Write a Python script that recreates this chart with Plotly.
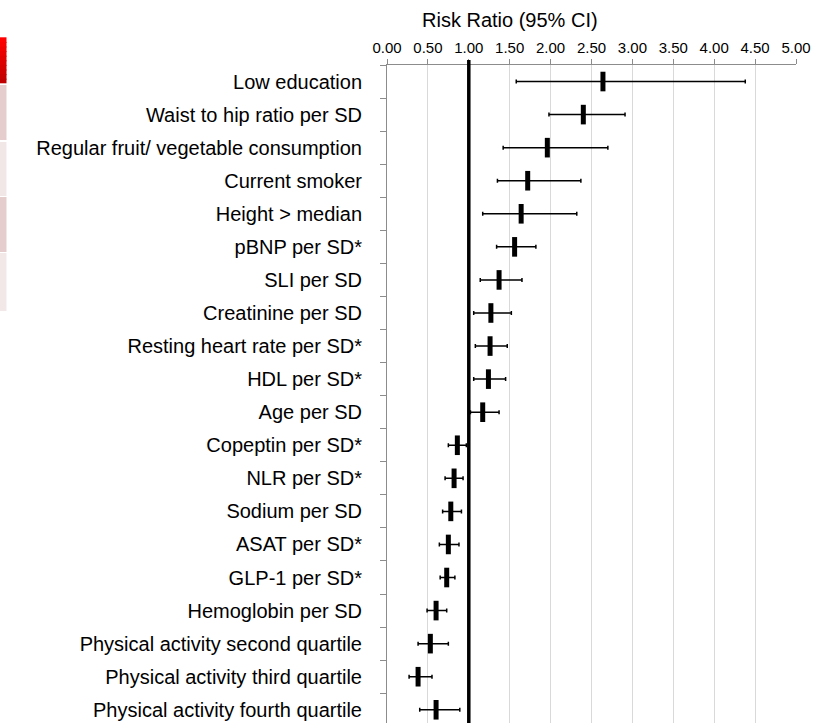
import plotly.graph_objects as go

labels = [
    "Low education",
    "Waist to hip ratio per SD",
    "Regular fruit/ vegetable consumption",
    "Current smoker",
    "Height > median",
    "pBNP per SD*",
    "SLI per SD",
    "Creatinine per SD",
    "Resting heart rate per SD*",
    "HDL per SD*",
    "Age per SD",
    "Copeptin per SD*",
    "NLR per SD*",
    "Sodium per SD",
    "ASAT per SD*",
    "GLP-1 per SD*",
    "Hemoglobin per SD",
    "Physical activity second quartile",
    "Physical activity third quartile",
    "Physical activity fourth quartile",
]
rr = [2.64, 2.40, 1.96, 1.72, 1.64, 1.56, 1.37, 1.27, 1.26, 1.24, 1.17,
      0.86, 0.82, 0.78, 0.75, 0.73, 0.60, 0.53, 0.38, 0.60]
ci_low = [1.58, 1.98, 1.42, 1.35, 1.17, 1.34, 1.14, 1.06, 1.08, 1.06, 1.02,
          0.75, 0.71, 0.68, 0.64, 0.65, 0.49, 0.38, 0.27, 0.40]
ci_high = [4.38, 2.91, 2.70, 2.37, 2.32, 1.82, 1.65, 1.52, 1.47, 1.45, 1.37,
           0.97, 0.93, 0.91, 0.88, 0.83, 0.73, 0.75, 0.55, 0.89]
x_ticks = [0, 0.5, 1, 1.5, 2, 2.5, 3, 3.5, 4, 4.5, 5]
x_tick_text = ["0.00", "0.50", "1.00", "1.50", "2.00", "2.50", "3.00", "3.50", "4.00", "4.50", "5.00"]
reference_value = 1.0

W, H = 827, 723
ML, MR, MT, MB = 387, 31, 65, 0
PW, PH = W - ML - MR, H - MT - MB

def px_x(p):
    return (p - ML) / PW

def px_y(p):
    return (H - MB - p) / PH

FONT = "Liberation Sans, Arial, sans-serif"

fig = go.Figure()
fig.add_trace(go.Scatter(
    x=rr, y=labels, mode="markers",
    marker=dict(symbol="line-ns", size=14, color="black",
                line=dict(width=5, color="black")),
    error_x=dict(type="data", symmetric=False,
                 array=[h - p for h, p in zip(ci_high, rr)],
                 arrayminus=[p - l for p, l in zip(rr, ci_low)],
                 color="black", thickness=1.5, width=2),
    showlegend=False, hoverinfo="skip",
))

shapes = [dict(type="line", xref="x", yref="paper",
               x0=reference_value, x1=reference_value, y0=0, y1=1 + 5 / PH,
               line=dict(color="black", width=3.5), layer="above")]

# decorative clipped boxes at the left edge
box_specs = [(85, 140, "#e6cdcd"), (142, 196, "#f2e7e7"),
             (197, 252, "#e6cdcd"), (253, 311, "#f2e8e8")]
for y0, y1, col in box_specs:
    shapes.append(dict(type="rect", xref="paper", yref="paper",
                       x0=px_x(0), x1=px_x(6.5), y0=px_y(y1), y1=px_y(y0),
                       fillcolor=col, line=dict(width=0), layer="above"))
n_str = 10
top, bot = 37.3, 83.3
for i in range(n_str):
    t = i / (n_str - 1)
    r = int(255 - t * (255 - 192))
    ya = top + (bot - top) * i / n_str
    yb = min(bot, top + (bot - top) * (i + 1) / n_str + 1)
    shapes.append(dict(type="rect", xref="paper", yref="paper",
                       x0=px_x(0), x1=px_x(6.5), y0=px_y(yb), y1=px_y(ya),
                       fillcolor=f"rgb({r},0,0)", line=dict(width=0), layer="above"))

fig.update_layout(
    width=W, height=H,
    margin=dict(l=ML, r=MR, t=MT, b=MB, pad=0),
    paper_bgcolor="white", plot_bgcolor="white",
    font=dict(family=FONT, color="black"),
    shapes=shapes,
    annotations=[dict(text="Risk Ratio (95% CI)", xref="paper", yref="paper",
                      x=px_x(510), y=px_y(20), xanchor="center", yanchor="middle",
                      showarrow=False, font=dict(size=20, family=FONT, color="black"))],
    xaxis=dict(
        side="top", range=[0, 5], tickvals=x_ticks, ticktext=x_tick_text,
        tickfont=dict(size=15, color="black"),
        showgrid=True, gridcolor="#d9d9d9", gridwidth=1,
        showline=True, linecolor="#8c8c8c", linewidth=1,
        ticks="outside", ticklen=5, tickcolor="#8c8c8c",
        zeroline=False, fixedrange=True,
    ),
    yaxis=dict(
        type="category", categoryorder="array", categoryarray=labels,
        range=[19.4, -0.5],
        tickfont=dict(size=20, color="black"),
        showgrid=False, zeroline=False,
        showline=True, linecolor="#8c8c8c", linewidth=1,
        ticks="outside", ticklen=6, tickcolor="#8c8c8c", tickson="boundaries",
        ticklabelstandoff=20, fixedrange=True,
    ),
)

fig.write_html("out.html",
               config={"displayModeBar": False, "staticPlot": True},
               post_script="document.body.style.margin='0';document.body.style.overflow='hidden';")
